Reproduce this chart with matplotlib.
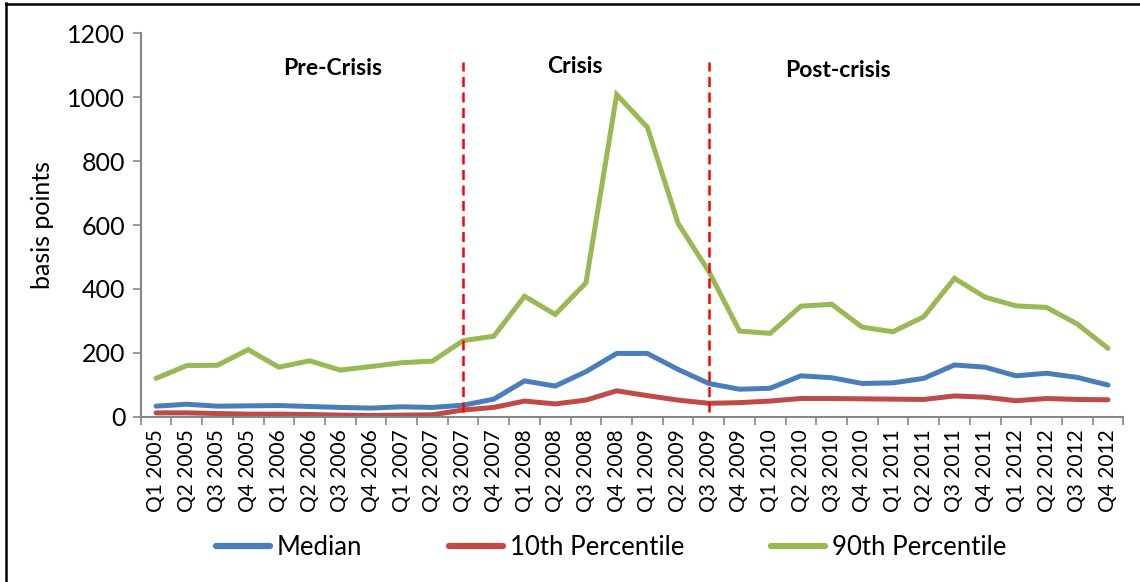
import matplotlib
matplotlib.use("Agg")
import matplotlib.pyplot as plt
from matplotlib.lines import Line2D

plt.rcParams['font.family'] = ['Lato', 'DejaVu Sans']

quarters = [f"Q{q} {y}" for y in range(2005, 2013) for q in range(1, 5)]

median = [33, 39, 33, 34, 35, 32, 29, 27, 31, 29, 36, 55,
          112, 96, 141, 198, 198, 148, 104, 86, 89, 128, 122, 104,
          106, 120, 162, 155, 128, 136, 123, 99]
p10 = [12, 12, 10, 8, 8, 7, 5, 4, 5, 6, 21, 29,
       49, 40, 52, 81, 66, 52, 42, 44, 49, 57, 57, 56,
       55, 54, 65, 61, 50, 57, 54, 53]
p90 = [120, 160, 161, 210, 155, 175, 146, 157, 169, 174, 238, 252,
       377, 320, 419, 1008, 906, 605, 455, 268, 261, 346, 352, 280,
       266, 313, 433, 374, 347, 342, 290, 214]

period_labels = ["Pre-Crisis", "Crisis", "Post-crisis"]
period_breaks = ["Q3 2007", "Q3 2009"]

fig = plt.figure(figsize=(11.4, 5.82), dpi=100)
ax = fig.add_axes([0.1234, 0.284, 0.862, 0.6588])

x = list(range(len(quarters)))
c_med, c_p10, c_p90 = "#4A7EBB", "#BE4B48", "#98B954"
ax.plot(x, median, color=c_med, lw=3.6, solid_capstyle="round", solid_joinstyle="miter", label="Median")
ax.plot(x, p10, color=c_p10, lw=3.6, solid_capstyle="round", solid_joinstyle="miter", label="10th Percentile")
ax.plot(x, p90, color=c_p90, lw=3.6, solid_capstyle="round", solid_joinstyle="miter", label="90th Percentile")

for q in period_breaks:
    xi = quarters.index(q)
    ax.plot([xi, xi], [15, 1110], color="#FF0000", lw=1.8, ls=(0, (4, 2.2)))

ax.set_xlim(-0.5, len(quarters) - 0.5)
ax.set_ylim(0, 1200)
ax.set_yticks(range(0, 1201, 200))

ax.set_xticks([i - 0.5 for i in range(len(quarters) + 1)])
ax.set_xticklabels([])
ax.set_xticks(x, minor=True)
ax.set_xticklabels(quarters, minor=True, rotation=90, fontsize=15)
ax.tick_params(axis="x", which="major", length=6, width=1.2, color="#868686", direction="out")
ax.tick_params(axis="x", which="minor", length=0, pad=9)
ax.tick_params(axis="y", length=6, width=1.2, color="#868686", direction="out", labelsize=18, pad=5)

for s in ["top", "right"]:
    ax.spines[s].set_visible(False)
for s in ["left", "bottom"]:
    ax.spines[s].set_color("#868686")
    ax.spines[s].set_linewidth(1.5)

ax.set_ylabel("basis points", fontsize=18, labelpad=10)

ax.text(5.75, 1090, period_labels[0], fontsize=16.5, fontweight="bold", ha="center", va="center")
ax.text(13.65, 1095, period_labels[1], fontsize=16.5, fontweight="bold", ha="center", va="center")
ax.text(22.2, 1083, period_labels[2], fontsize=16.5, fontweight="bold", ha="center", va="center")

handles = [Line2D([], [], color=c, lw=4.5, solid_capstyle="round") for c in (c_med, c_p10, c_p90)]
fig.legend(handles, ["Median", "10th Percentile", "90th Percentile"], loc="center",
           bbox_to_anchor=(0.536, 0.06), ncol=3, frameon=False, fontsize=18.5,
           handlelength=2.1, handletextpad=0.25, columnspacing=3.4)

# outer frame lines (left and top)
fig.add_artist(Line2D([5.5 / 1140, 5.5 / 1140], [0, 1 - 3 / 582], color="black", lw=1.8,
                      transform=fig.transFigure))
fig.add_artist(Line2D([5.5 / 1140, 1], [1 - 3.5 / 582, 1 - 3.5 / 582], color="black", lw=1.8,
                      transform=fig.transFigure))

fig.savefig("out.png", dpi=100, facecolor="white")
